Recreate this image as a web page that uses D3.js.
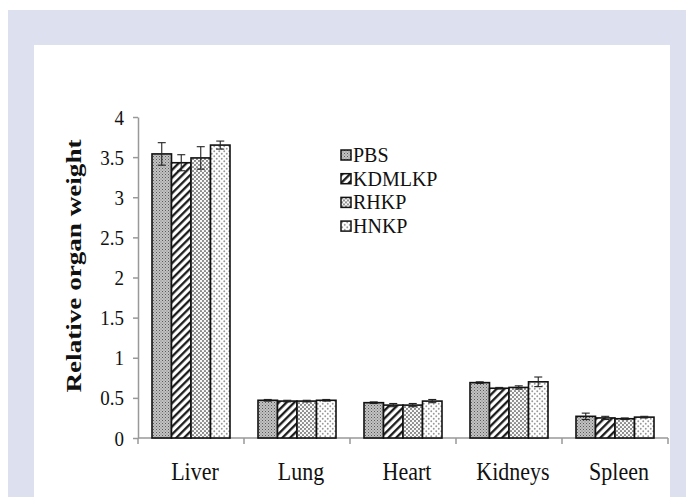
<!DOCTYPE html>
<html><head><meta charset="utf-8">
<script src="https://cdn.jsdelivr.net/npm/d3@7/dist/d3.min.js"></script>
<style>body{margin:0;background:#fff}svg{display:block}</style>
</head><body>
<script>
const categories = ["Liver", "Lung", "Heart", "Kidneys", "Spleen"];
const seriesNames = ["PBS", "KDMLKP", "RHKP", "HNKP"];
const pbsValues    = [3.54, 0.47, 0.44, 0.69, 0.27];
const kdmlkpValues = [3.43, 0.46, 0.41, 0.62, 0.25];
const rhkpValues   = [3.49, 0.46, 0.41, 0.63, 0.24];
const hnkpValues   = [3.65, 0.47, 0.46, 0.70, 0.26];
const pbsErrors    = [0.14, 0.01, 0.01, 0.01, 0.04];
const kdmlkpErrors = [0.10, 0.01, 0.02, 0.01, 0.02];
const rhkpErrors   = [0.14, 0.01, 0.02, 0.02, 0.01];
const hnkpErrors   = [0.05, 0.01, 0.02, 0.06, 0.01];
const yTicks = [0, 0.5, 1, 1.5, 2, 2.5, 3, 3.5, 4];
const yLabel = "Relative organ weight";

const valuesBySeries = [pbsValues, kdmlkpValues, rhkpValues, hnkpValues];
const errorsBySeries = [pbsErrors, kdmlkpErrors, rhkpErrors, hnkpErrors];
const patternIds = ["pPBS", "pKDM", "pRH", "pHN"];

const W = 686, H = 497;
const svg = d3.select("body").append("svg").attr("width", W).attr("height", H);

// patterns
const defs = svg.append("defs");
const p1 = defs.append("pattern").attr("id", "pPBS").attr("patternUnits", "userSpaceOnUse").attr("width", 3).attr("height", 3);
p1.append("rect").attr("width", 3).attr("height", 3).attr("fill", "#c2c2c2");
p1.append("rect").attr("x", 0).attr("y", 0).attr("width", 1).attr("height", 1).attr("fill", "#5a5a5a");
p1.append("rect").attr("x", 1.5).attr("y", 1.5).attr("width", 1).attr("height", 1).attr("fill", "#7a7a7a");

const p2 = defs.append("pattern").attr("id", "pKDM").attr("patternUnits", "userSpaceOnUse").attr("width", 5.5).attr("height", 5.5).attr("patternTransform", "rotate(45)");
p2.append("rect").attr("width", 5.5).attr("height", 5.5).attr("fill", "#fff");
p2.append("line").attr("x1", 1.2).attr("y1", 0).attr("x2", 1.2).attr("y2", 5.5).attr("stroke", "#111").attr("stroke-width", 2.2);

const p3 = defs.append("pattern").attr("id", "pRH").attr("patternUnits", "userSpaceOnUse").attr("width", 4).attr("height", 4);
p3.append("rect").attr("width", 4).attr("height", 4).attr("fill", "#fafafa");
p3.append("circle").attr("cx", 1).attr("cy", 1).attr("r", 1.1).attr("fill", "#858585");
p3.append("circle").attr("cx", 3).attr("cy", 3).attr("r", 1.1).attr("fill", "#858585");

const p4 = defs.append("pattern").attr("id", "pHN").attr("patternUnits", "userSpaceOnUse").attr("width", 5).attr("height", 5);
p4.append("rect").attr("width", 5).attr("height", 5).attr("fill", "#fff");
p4.append("circle").attr("cx", 1.25).attr("cy", 1.25).attr("r", 0.95).attr("fill", "#999");
p4.append("circle").attr("cx", 3.75).attr("cy", 3.75).attr("r", 0.95).attr("fill", "#999");

// frame
svg.append("rect").attr("x", 8).attr("y", 10).attr("width", W - 8).attr("height", H - 10).attr("fill", "#dde0ee");
svg.append("rect").attr("x", 34).attr("y", 45).attr("width", 636).attr("height", H - 45).attr("fill", "#fff");

// scales
const plotL = 138, plotR = 668, plotT = 117, plotB = 438;
const x0 = d3.scaleBand().domain(categories).range([plotL, plotR]).padding(0);
const x1 = d3.scaleBand().domain(seriesNames).range([14, x0.bandwidth() - 14]).padding(0);
const y = d3.scaleLinear().domain([0, 4]).range([plotB, plotT]);

const serif = "Liberation Serif, Times New Roman, Times, serif";

// y axis
const yAxis = svg.append("g").attr("transform", `translate(${plotL},0)`)
  .call(d3.axisLeft(y).tickValues(yTicks).tickFormat(d => String(d)).tickSize(5).tickSizeOuter(0));
yAxis.select(".domain").attr("stroke", "#999").attr("stroke-width", 1.5);
yAxis.selectAll(".tick line").attr("stroke", "#999").attr("stroke-width", 1.5);
yAxis.selectAll(".tick text").attr("font-family", serif).attr("font-size", 20).attr("fill", "#111")
  .attr("x", 0).attr("dy", null).attr("transform", "translate(-14,7) scale(0.95,1.08)");

// x axis
const xAxisG = svg.append("g").attr("transform", `translate(0,${plotB})`);
xAxisG.append("line").attr("x1", plotL).attr("x2", plotR).attr("y1", 0).attr("y2", 0).attr("stroke", "#999").attr("stroke-width", 1.5);
const boundaries = categories.map(c => x0(c)).concat([x0(categories[categories.length - 1]) + x0.bandwidth()]);
xAxisG.selectAll("line.tk").data(boundaries).enter().append("line").attr("class", "tk")
  .attr("x1", d => d).attr("x2", d => d).attr("y1", 0).attr("y2", 6).attr("stroke", "#999").attr("stroke-width", 1.5);
svg.selectAll("text.cat").data(categories).enter().append("text").attr("class", "cat")
  .attr("transform", d => `translate(${x0(d) + x0.bandwidth() / 2 + 4},480) scale(1,1.12)`)
  .attr("text-anchor", "middle").attr("font-family", serif).attr("font-size", 22).attr("fill", "#111")
  .text(d => d);

// y label
svg.append("text").attr("transform", "translate(81,266) rotate(-90)")
  .attr("text-anchor", "middle").attr("font-family", serif).attr("font-weight", "bold")
  .attr("font-size", 21).attr("fill", "#111")
  .attr("textLength", 253).attr("lengthAdjust", "spacingAndGlyphs")
  .text(yLabel);

// bars
const groups = svg.selectAll("g.cat").data(categories).enter().append("g").attr("class", "cat")
  .attr("transform", d => `translate(${x0(d)},0)`);
groups.each(function (cat, ci) {
  const g = d3.select(this);
  seriesNames.forEach((s, si) => {
    const v = valuesBySeries[si][ci];
    g.append("rect").attr("x", x1(s)).attr("y", y(v)).attr("width", x1.bandwidth()).attr("height", y(0) - y(v))
      .attr("fill", `url(#${patternIds[si]})`).attr("stroke", "#111").attr("stroke-width", 1.6);
  });
  seriesNames.forEach((s, si) => {
    const v = valuesBySeries[si][ci], e = errorsBySeries[si][ci];
    const cx = x1(s) + x1.bandwidth() / 2;
    const eg = g.append("g").attr("stroke", "#222").attr("stroke-width", 1.1);
    eg.append("line").attr("x1", cx).attr("x2", cx).attr("y1", y(v - e)).attr("y2", y(v + e));
    eg.append("line").attr("x1", cx - 4).attr("x2", cx + 4).attr("y1", y(v + e)).attr("y2", y(v + e));
    eg.append("line").attr("x1", cx - 4).attr("x2", cx + 4).attr("y1", y(v - e)).attr("y2", y(v - e));
  });
});

// legend
const legend = svg.append("g").attr("transform", "translate(341,150)");
seriesNames.forEach((s, i) => {
  const row = legend.append("g").attr("transform", `translate(0,${i * 23.7})`);
  row.append("rect").attr("x", 0).attr("y", 0).attr("width", 10).attr("height", 10)
    .attr("fill", `url(#${patternIds[i]})`).attr("stroke", "#111").attr("stroke-width", 1.5);
  row.append("text").attr("x", 12).attr("y", 12).attr("font-family", serif).attr("font-size", 20)
    .attr("fill", "#111").text(s);
});
</script>
</body></html>
